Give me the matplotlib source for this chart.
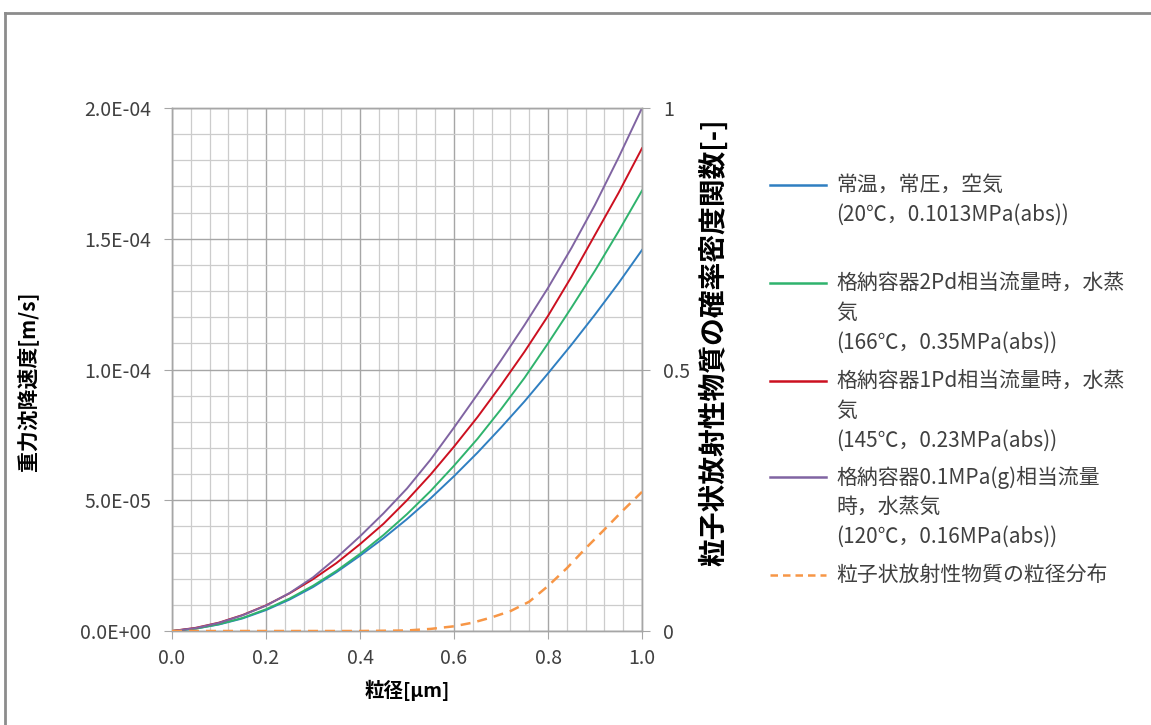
import matplotlib
matplotlib.use("Agg")
import matplotlib.pyplot as plt
from matplotlib.lines import Line2D
from matplotlib.ticker import MultipleLocator

plt.rcParams['font.family'] = ['Noto Sans CJK JP', 'DejaVu Sans']

# ---- data ----
diam = [0.00, 0.05, 0.10, 0.15, 0.20, 0.25, 0.30, 0.35, 0.40, 0.45, 0.50,
        0.55, 0.60, 0.65, 0.70, 0.75, 0.80, 0.85, 0.90, 0.95, 1.00]
# settling velocity in units of 1E-04 m/s
v_air = [0, 0.009, 0.025, 0.048, 0.080, 0.120, 0.168, 0.225, 0.288, 0.355, 0.428,
         0.507, 0.592, 0.682, 0.778, 0.878, 0.985, 1.095, 1.210, 1.330, 1.457]
v_2pd = [0, 0.009, 0.026, 0.050, 0.083, 0.124, 0.173, 0.230, 0.295, 0.367, 0.447,
         0.535, 0.632, 0.735, 0.848, 0.968, 1.100, 1.237, 1.378, 1.528, 1.684]
v_1pd = [0, 0.012, 0.032, 0.061, 0.098, 0.144, 0.198, 0.260, 0.332, 0.410, 0.500,
         0.598, 0.705, 0.818, 0.940, 1.068, 1.205, 1.355, 1.515, 1.675, 1.846]
v_01mpa = [0, 0.011, 0.031, 0.060, 0.097, 0.145, 0.205, 0.280, 0.362, 0.450, 0.545,
           0.655, 0.778, 0.905, 1.035, 1.170, 1.312, 1.465, 1.630, 1.810, 2.000]

diam_pdf = [0.0, 0.1, 0.2, 0.3, 0.4, 0.5, 0.55, 0.60, 0.64, 0.68, 0.72,
            0.76, 0.80, 0.84, 0.88, 0.92, 0.96, 1.00]
pdf = [0, 0, 0, 0, 0, 0.001, 0.004, 0.009, 0.016, 0.026, 0.038,
       0.056, 0.086, 0.120, 0.158, 0.194, 0.231, 0.266]

labels = [
    ["常温，常圧，空気", "(20℃，0.1013MPa(abs))"],
    ["格納容器2Pd相当流量時，水蒸", "気", "(166℃，0.35MPa(abs))"],
    ["格納容器1Pd相当流量時，水蒸", "気", "(145℃，0.23MPa(abs))"],
    ["格納容器0.1MPa(g)相当流量", "時，水蒸気", "(120℃，0.16MPa(abs))"],
    ["粒子状放射性物質の粒径分布"],
]
colors = ['#2f7fc1', '#2fb36d', '#cc1020', '#8064a2', '#f79646']

W, H = 1151, 725


def fx(x):
    return x / W


def fy(y):
    return 1 - y / H


fig = plt.figure(figsize=(W / 100, H / 100), dpi=100)
fig.patch.set_facecolor('white')

ax = fig.add_axes([fx(172), fy(631), 470 / W, 523 / H])
ax2 = ax.twinx()

series = [v_air, v_2pd, v_1pd, v_01mpa]
for vals, c in zip(series, colors[:4]):
    ax.plot(diam, [v * 1e-4 for v in vals], color=c, lw=1.4, zorder=3)
ax2.plot(diam_pdf, pdf, color=colors[4], lw=1.8, ls=(0, (4, 2.8)), zorder=3)

ax.set_xlim(0, 1)
ax.set_ylim(0, 2e-4)
ax2.set_ylim(0, 1)

ax.xaxis.set_minor_locator(MultipleLocator(0.04))
ax.yaxis.set_minor_locator(MultipleLocator(1e-5))
ax.set_xticks([0, 0.2, 0.4, 0.6, 0.8, 1.0])
ax.set_xticklabels(["0.0", "0.2", "0.4", "0.6", "0.8", "1.0"])
ax.set_yticks([0, 5e-5, 1e-4, 1.5e-4, 2e-4])
ax.set_yticklabels(["0.0E+00", "5.0E-05", "1.0E-04", "1.5E-04", "2.0E-04"])
ax2.set_yticks([0, 0.5, 1])
ax2.set_yticklabels(["0", "0.5", "1"])

ax.grid(which='major', color='#a6a6a6', lw=1.0)
ax.grid(which='minor', color='#cccccc', lw=0.9)
ax.set_axisbelow(True)

for a in (ax, ax2):
    for s in a.spines.values():
        s.set_color('#a6a6a6')
        s.set_linewidth(1.0)
ax.tick_params(which='major', direction='out', length=6, color='#a6a6a6',
               labelsize=14, labelcolor='#404040', pad=9)
ax.tick_params(axis='x', which='major', pad=6)
ax.tick_params(which='minor', length=0)
ax2.tick_params(direction='out', length=6, color='#a6a6a6',
                labelsize=14, labelcolor='#404040', pad=9)

ax.set_xlabel("粒径[µm]", fontsize=14, fontweight='bold')
ax.xaxis.set_label_coords((407 - 172) / 470, -(680 - 631) / 523)
ax.set_ylabel("重力沈降速度[m/s]", fontsize=15, fontweight='bold')
ax.yaxis.set_label_coords((38 - 172) / 470, (631 - 381) / 523)
ax2.set_ylabel("粒子状放射性物質の確率密度関数[-]", fontsize=20, fontweight='bold')
ax2.yaxis.set_label_coords((699 - 172) / 470, (631 - 342) / 523)

# legend drawn by hand (handles beside first text row)
handle_y = [185, 283, 381, 477, 575]
row_gap = 30
for lab, c, hy in zip(labels, colors, handle_y):
    ls = '-' if c != colors[4] else (0, (3, 2))
    fig.add_artist(Line2D([fx(770), fx(826)], [fy(hy), fy(hy)], color=c,
                          lw=1.8, ls=ls))
    for i, line in enumerate(lab):
        fig.text(fx(836), fy(hy + i * row_gap), line, fontsize=15,
                 color='#404040', va='center', ha='left')

# outer frame (top and left edges only visible)
fig.add_artist(Line2D([fx(5), fx(W)], [fy(13), fy(13)], color='#8c8c8c', lw=2))
fig.add_artist(Line2D([fx(5), fx(5)], [fy(13), fy(H)], color='#8c8c8c', lw=2))

fig.savefig("out.png", dpi=100)
